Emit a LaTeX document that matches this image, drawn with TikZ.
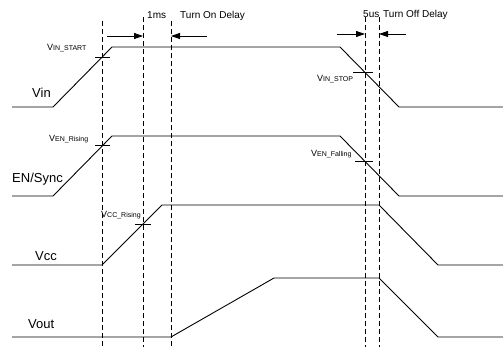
\documentclass[tikz,border=0pt]{standalone}
\usepackage{fontspec}
\setmainfont{Liberation Sans}
\usetikzlibrary{arrows.meta}
\newcommand\thrlabel[2]{{\fontsize{9}{9}\selectfont #1}{\fontsize{7}{7}\selectfont #2}}
\begin{document}
\begin{tikzpicture}[x=1pt,y=-1pt,
  sig/.style={line width=0.9pt, line join=miter},
  guide/.style={line width=0.7pt, dash pattern=on 5pt off 3pt},
  thrtick/.style={line width=0.7pt},
  delayarrow/.style={line width=0.8pt,-{Triangle[length=9pt,width=6pt]}},
  big/.style={font=\fontsize{13}{13}\selectfont, inner sep=0pt, anchor=base west},
  small/.style={font=\fontsize{10}{10}\selectfont, inner sep=0pt, anchor=base west},
  thr/.style={inner sep=0pt, anchor=base west}]
\useasboundingbox (0,0) rectangle (503,347);

% guide lines
\coordinate (g1t) at (102,21);  \coordinate (g1b) at (102,347);
\coordinate (g2t) at (143,17);  \coordinate (g2b) at (143,347);
\coordinate (g3t) at (171,21);  \coordinate (g3b) at (171,347);
\coordinate (g4t) at (365,17);  \coordinate (g4b) at (365,347);
\coordinate (g5t) at (379,17);  \coordinate (g5b) at (379,347);
\foreach \i in {1,...,5} \draw[guide] (g\i t) -- (g\i b);

% signals
\draw[sig] (12,107) -- (53,107) -- (112,47) -- (340,47) -- (399,107) -- (503,107);
\draw[sig] (12,196) -- (53,196) -- (112,136) -- (340,136) -- (399,196) -- (503,196);
\draw[sig] (12,265) -- (102,265) -- (162,205) -- (379,205) -- (438,265) -- (503,265);
\draw[sig] (12,337) -- (171,337) -- (274,278) -- (379,278) -- (438,337) -- (503,337);

% signal names
\node[big] (vin) at (32,98) {Vin};
\node[big] (en) at (12,183) {EN/Sync};
\node[big] (vcc) at (35,261) {Vcc};
\node[big] (vout) at (28,328) {Vout};

% threshold ticks
\draw[thrtick] (95,57) -- (110,57);
\draw[thrtick] (95,145) -- (110,145);
\draw[thrtick] (135,224) -- (151,224);
\draw[thrtick] (353,72) -- (373,72);
\draw[thrtick] (355,161) -- (373,161);

% threshold labels
\node[thr] (lvinstart) at (47,51) {\thrlabel{V}{IN\_START}};
\node[thr] (lvenr) at (49,142) {\thrlabel{V}{EN\_Rising}};
\node[thr] (lvccr) at (101,218) {\thrlabel{V}{CC\_Rising}};
\node[thr] (lvinstop) at (317,82) {\thrlabel{V}{IN\_STOP}};
\node[thr] (lvenf) at (311,157) {\thrlabel{V}{EN\_Falling}};

% delay arrows
\coordinate (a1s) at (107,36); \coordinate (a1e) at (143,36);
\coordinate (a2s) at (207,36); \coordinate (a2e) at (171,36);
\coordinate (a3s) at (337,34); \coordinate (a3e) at (365,34);
\coordinate (a4s) at (406,34); \coordinate (a4e) at (379,34);
\draw[delayarrow] (a1s) -- (a1e);
\draw[delayarrow] (a2s) -- (a2e);
\draw[delayarrow] (a3s) -- (a3e);
\draw[delayarrow] (a4s) -- (a4e);

% delay texts
\node[small] (t1ms) at (147,19) {1ms};
\node[small] (ton) at (180,19) {Turn On Delay};
\node[small] (t5us) at (363,18) {5us};
\node[small] (toff) at (383,18) {Turn Off Delay};
\end{tikzpicture}
\end{document}
